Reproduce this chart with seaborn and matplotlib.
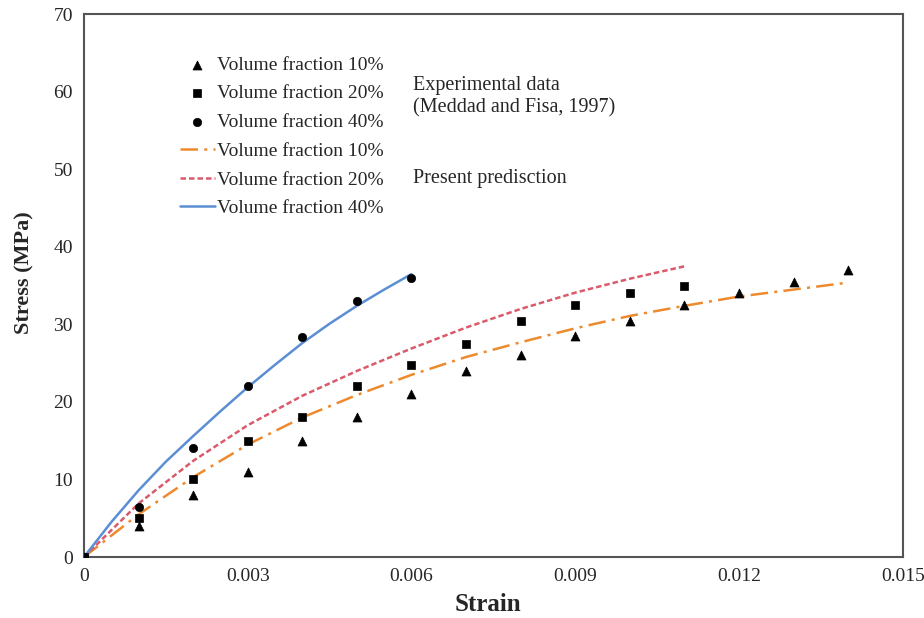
import numpy as np
import pandas as pd
import matplotlib
import matplotlib.pyplot as plt
import seaborn as sns

matplotlib.use('Agg')

# --- experimental data (Meddad and Fisa, 1997) ---
exp_strain_10 = [0, 0.001, 0.002, 0.003, 0.004, 0.005, 0.006, 0.007, 0.008, 0.009, 0.010, 0.011, 0.012, 0.013, 0.014]
exp_stress_10 = [0, 4.0, 8.0, 11.0, 15.0, 18.0, 21.0, 24.0, 26.0, 28.5, 30.5, 32.5, 34.0, 35.5, 37.0]

exp_strain_20 = [0, 0.001, 0.002, 0.003, 0.004, 0.005, 0.006, 0.007, 0.008, 0.009, 0.010, 0.011]
exp_stress_20 = [0, 5.0, 10.0, 15.0, 18.0, 22.0, 24.8, 27.5, 30.5, 32.5, 34.0, 35.0]

exp_strain_40 = [0, 0.001, 0.002, 0.003, 0.004, 0.005, 0.006]
exp_stress_40 = [0, 6.4, 14.0, 22.0, 28.4, 33.0, 36.0]

# --- present prediction ---
pred_strain_10 = [0, 0.001, 0.002, 0.003, 0.004, 0.005, 0.006, 0.007, 0.008, 0.009, 0.010, 0.011, 0.012, 0.013, 0.014]
pred_stress_10 = [0, 5.5, 10.3, 14.5, 18.0, 20.9, 23.5, 25.8, 27.7, 29.5, 31.1, 32.4, 33.6, 34.5, 35.4]

pred_strain_20 = [0, 0.001, 0.002, 0.003, 0.004, 0.005, 0.006, 0.007, 0.008, 0.009, 0.010, 0.011]
pred_stress_20 = [0, 6.9, 12.4, 17.0, 20.8, 24.0, 26.9, 29.6, 32.0, 34.1, 35.9, 37.5]

pred_strain_40 = [0, 0.0005, 0.001, 0.0015, 0.002, 0.0025, 0.003, 0.0035, 0.004, 0.0045, 0.005, 0.0055, 0.006]
pred_stress_40 = [0, 4.5, 8.6, 12.3, 15.6, 18.8, 21.9, 24.8, 27.6, 30.1, 32.4, 34.5, 36.5]

x_ticks = [0, 0.003, 0.006, 0.009, 0.012, 0.015]
x_tick_labels = ['0', '0.003', '0.006', '0.009', '0.012', '0.015']
y_ticks = [0, 10, 20, 30, 40, 50, 60, 70]

sns.set_style('white')
plt.rcParams['font.family'] = ['Liberation Serif', 'DejaVu Serif']

fig = plt.figure(figsize=(9.24, 6.18), dpi=100)
ax = fig.add_axes([0.0909, 0.0987, 0.886, 0.878])

# 预测曲线
line_specs = [
    (pred_strain_10, pred_stress_10, '#EE8A2E', (7, 2.5, 1.2, 2.5)),
    (pred_strain_20, pred_stress_20, '#D95B6B', (2.2, 1.2)),
    (pred_strain_40, pred_stress_40, '#5B8ED3', None),
]
pred_handles = []
for xs, ys, color, dash in line_specs:
    sns.lineplot(x=xs, y=ys, ax=ax, color=color, linewidth=1.8, sort=False)
    ln = ax.lines[-1]
    if dash is not None:
        ln.set_dashes(dash)
    pred_handles.append(ln)

# 实验数据点
marker_specs = [
    (exp_strain_10, exp_stress_10, '^', 42),
    (exp_strain_20, exp_stress_20, 's', 34),
    (exp_strain_40, exp_stress_40, 'o', 36),
]
exp_handles = []
for xs, ys, m, s in marker_specs:
    sns.scatterplot(x=xs, y=ys, ax=ax, marker=m, s=s, color='black',
                    edgecolor='black', linewidth=0.5, zorder=5)
    exp_handles.append(ax.collections[-1])

ax.set_xlim(0, 0.015)
ax.set_ylim(0, 70)
ax.set_xticks(x_ticks)
ax.set_xticklabels(x_tick_labels)
ax.set_yticks(y_ticks)
ax.tick_params(axis='both', direction='in', length=4, width=1, color='#555555',
               labelsize=14, pad=8)
for sp in ax.spines.values():
    sp.set_visible(True)
    sp.set_color('#555555')
    sp.set_linewidth(1.5)

ax.set_xlabel('Strain', fontsize=18, fontweight='bold', labelpad=2)
ax.xaxis.set_label_coords(0.494, -0.066)
ax.set_ylabel('Stress (MPa)', fontsize=16, fontweight='bold')
ax.yaxis.set_label_coords(-0.06, 0.525)

labels = ['Volume fraction 10%', 'Volume fraction 20%', 'Volume fraction 40%'] * 2
leg = ax.legend(exp_handles + pred_handles, labels, loc='upper left',
                bbox_to_anchor=(0.117, 0.923), frameon=False, fontsize=14,
                handlelength=1.8, handletextpad=0.1, labelspacing=0.57,
                borderaxespad=0, borderpad=0)

ax.text(0.402, 0.869, 'Experimental data', transform=ax.transAxes,
        fontsize=14.5, va='center', ha='left')
ax.text(0.402, 0.827, '(Meddad and Fisa, 1997)', transform=ax.transAxes,
        fontsize=14.5, va='center', ha='left')
ax.text(0.402, 0.698, 'Present predisction', transform=ax.transAxes,
        fontsize=14.5, va='center', ha='left')

fig.savefig('out.png', dpi=100)
plt.close(fig)
